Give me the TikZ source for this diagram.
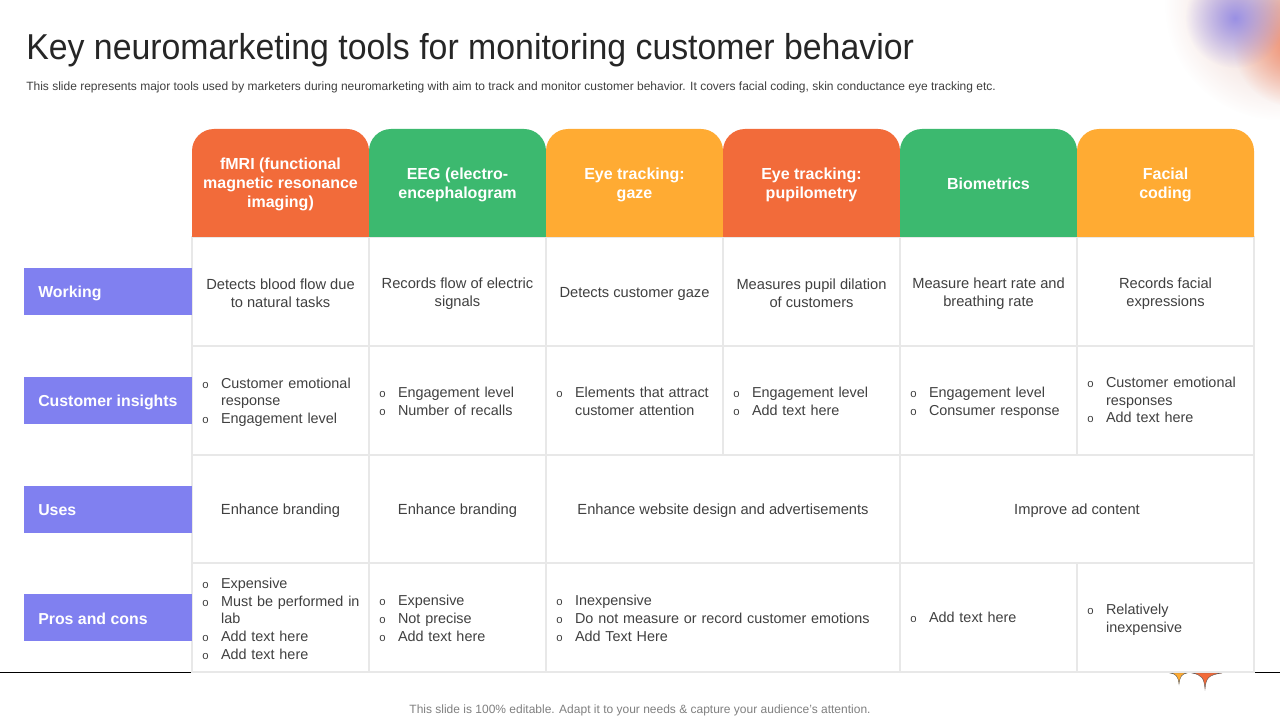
\documentclass[tikz,border=0pt]{standalone}
\usepackage{fontspec}
\setmainfont{Liberation Sans}
\newfontfamily\titlefont[FakeStretch=0.94]{Liberation Sans}
\usetikzlibrary{fadings}
\definecolor{cgrid}{HTML}{E8E8E8}
\definecolor{ctext}{HTML}{404040}
\definecolor{corange}{HTML}{F26B3A}
\definecolor{cgreen}{HTML}{3CB96F}
\definecolor{cyellow}{HTML}{FFAB33}
\definecolor{cpurple}{HTML}{8080F0}
\definecolor{cblob}{HTML}{9A90E4}
\definecolor{cblobr}{HTML}{F08A68}
\definecolor{cblobp}{HTML}{E8C4BC}
\tikzfading[name=blobfade, inner color=transparent!0, middle color=transparent!65, outer color=transparent!100]
\tikzfading[name=basefade, inner color=transparent!0, middle color=transparent!35, outer color=transparent!100]
\newcommand{\bl}[2][]{\par\rightskip=0pt plus 1fil\parfillskip=0pt plus 1fil\hangindent=14pt\hangafter=1\noindent\makebox[14pt][l]{\fontsize{8.5}{9}\selectfont o}#2\par}
\tikzset{
  x=0.75pt,y=-0.75pt,
  gridbox/.style={draw=cgrid,line width=1pt,fill=white},
  cell/.style={inner sep=0pt,text=ctext,font=\fontsize{11}{13.3}\selectfont,align=center,yshift=-1.5pt},
  bcell/.style={inner sep=0pt,text=ctext,font=\fontsize{10.8}{13.3}\selectfont,align=left,text width=#1*0.75pt-10pt,xshift=2.8pt,yshift=1.9pt},
  head/.style={inner sep=0pt,text=white,font=\bfseries\fontsize{12}{14.2}\selectfont,align=center},
  headbg/.style={fill=#1},
  rowlabel/.style={inner sep=0pt,anchor=west,text=white,font=\bfseries\fontsize{11.9}{14}\selectfont},
}
\begin{document}
\begin{tikzpicture}
\useasboundingbox (0,0) rectangle (1280,720);
\fill[white] (0,0) rectangle (1280,720);
% soft glow, top right
\begin{scope}
\clip (1100,0) rectangle (1280,140);
\fill[cblobp,path fading=basefade] (1280,5) circle (115);
\fill[cblobr,path fading=blobfade] (1295,45) circle (62);
\fill[cblob,path fading=blobfade] (1235,18) circle (50);
\end{scope}
% bottom rule and spikes
\coordinate (ruleL) at (0,672);
\coordinate (ruleR) at (1280,672);
\draw[black,line width=0.6pt] (ruleL) -- (ruleR);
\fill[cyellow,draw=black!65,line width=0.3pt] (1170,673) .. controls (1176,674) and (1178,676) .. (1179,684) .. controls (1180,676) and (1182,674) .. (1187,673) -- cycle;
\fill[corange,draw=black!65,line width=0.3pt] (1192,673) .. controls (1202,675) and (1204,678) .. (1205,689) .. controls (1206,678) and (1208,675) .. (1222,673) -- cycle;
% title
\node[anchor=base west,inner sep=0pt,text=black!85!white,font=\titlefont\fontsize{27}{30}\selectfont] (title) at (26,59.5) {Key neuromarketing tools for monitoring customer behavior};
\node[anchor=base west,inner sep=0pt,text=ctext,font=\fontsize{9}{11}\selectfont] (sub) at (26,91) {This slide represents major tools used by marketers during neuromarketing with aim to track and monitor customer behavior. It covers facial coding, skin conductance eye tracking etc.};
% grid
\foreach \xa/\xb in {192/369,369/546,546/723,723/900,900/1077,1077/1254}{
  \draw[gridbox] (\xa,237) rectangle (\xb,346);
  \draw[gridbox] (\xa,346) rectangle (\xb,455);
}
\foreach \xa/\xb in {192/369,369/546,546/900,900/1254}{
  \draw[gridbox] (\xa,455) rectangle (\xb,563);
}
\foreach \xa/\xb in {192/369,369/546,546/900,900/1077,1077/1254}{
  \draw[gridbox] (\xa,563) rectangle (\xb,672);
}
% header backgrounds
\foreach \xa/\xb/\c in {192/369/corange,369/546/cgreen,546/723/cyellow,723/900/corange,900/1077/cgreen,1077/1254/cyellow}{
  \fill[headbg=\c] (\xa,237) [rounded corners=16.5pt] -- (\xa,129) -- (\xb,129) [sharp corners] -- (\xb,237) -- cycle;
}
\node[head] (h1) at (280.5,184) {fMRI (functional\\magnetic resonance\\imaging)};
\node[head] (h2) at (457.5,185) {EEG (electro-\\encephalogram};
\node[head] (h3) at (634.5,185) {Eye tracking:\\gaze};
\node[head] (h4) at (811.5,185) {Eye tracking:\\pupilometry};
\node[head] (h5) at (988.5,184) {Biometrics};
\node[head] (h6) at (1165.5,185) {Facial\\coding};
% row labels
\foreach \ya/\yb in {268/315,377/424,486/533,594/641}{
  \fill[cpurple] (24,\ya) rectangle (192,\yb);
}
\node[rowlabel] (r1) at (38,293) {Working};
\node[rowlabel] (r2) at (38,402) {Customer insights};
\node[rowlabel] (r3) at (38,510.5) {Uses};
\node[rowlabel] (r4) at (38,618.5) {Pros and cons};
% row 1
\node[cell] (a1) at (280.5,291.5) {Detects blood flow due\\to natural tasks};
\node[cell] (a2) at (457.5,291.5) {Records flow of electric\\signals};
\node[cell] (a3) at (634.5,291.5) {Detects customer gaze};
\node[cell] (a4) at (811.5,291.5) {Measures pupil dilation\\of customers};
\node[cell] (a5) at (988.5,291.5) {Measure heart rate and\\breathing rate};
\node[cell] (a6) at (1165.5,291.5) {Records facial\\expressions};
% row 2
\node[bcell=177] (b1) at (280.5,401) {\bl{Customer emotional\newline response}\bl{Engagement level}};
\node[bcell=177] (b2) at (457.5,400.5) {\bl{Engagement level}\bl{Number of recalls}};
\node[bcell=177] (b3) at (634.5,400.5) {\bl{Elements that attract\newline customer attention}};
\node[bcell=177] (b4) at (811.5,400.5) {\bl{Engagement level}\bl{Add text here}};
\node[bcell=177] (b5) at (988.5,401.5) {\bl{Engagement level}\bl{Consumer response}};
\node[bcell=177] (b6) at (1165.5,399) {\bl{Customer emotional\newline responses}\bl{Add text here}};
% row 3
\node[cell] (c1) at (280.5,508.5) {Enhance branding};
\node[cell] (c2) at (457.5,508.5) {Enhance branding};
\node[cell] (c3) at (723,508.5) {Enhance website design and advertisements};
\node[cell] (c4) at (1077,508.5) {Improve ad content};
% row 4
\node[bcell=177] (d1) at (280.5,617.5) {\bl{Expensive}\bl{Must be performed in\newline lab}\bl{Add text here}\bl{Add text here}};
\node[bcell=177] (d2) at (457.5,617) {\bl{Expensive}\bl{Not precise}\bl{Add text here}};
\node[bcell=354] (d3) at (723,617) {\bl{Inexpensive}\bl{Do not measure or record customer emotions}\bl{Add Text Here}};
\node[bcell=177] (d4) at (988.5,616) {\bl{Add text here}};
\node[bcell=177] (d5) at (1165.5,618.5) {\bl{Relatively\newline inexpensive}};
% footer
\node[anchor=base,inner sep=0pt,text=black!50!white,font=\fontsize{9}{11}\selectfont] (foot) at (640,713) {This slide is 100\% editable. Adapt it to your needs \& capture your audience’s attention.};
\end{tikzpicture}
\end{document}
